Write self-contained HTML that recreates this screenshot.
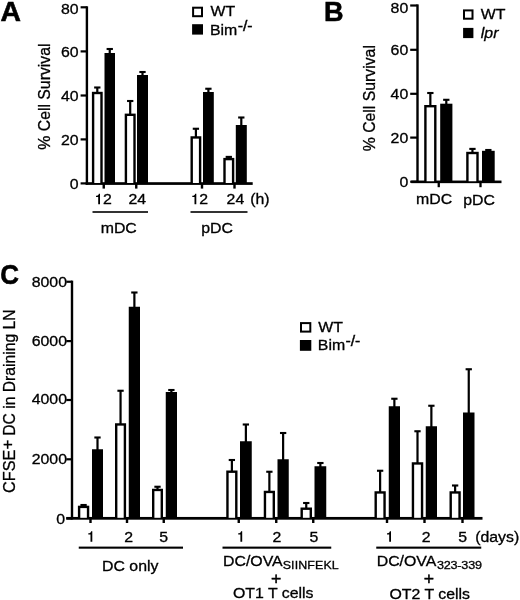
<!DOCTYPE html>
<html><head><meta charset="utf-8"><title>Figure</title>
<style>
html,body{margin:0;padding:0;background:#fff;}
text{stroke:#000;stroke-width:0.3px;}
svg{display:block;will-change:transform;font-family:"Liberation Sans",sans-serif;font-size:14.7px;fill:#000;}
</style></head>
<body>
<svg width="520" height="600" viewBox="0 0 520 600">
<rect x="0" y="0" width="520" height="600" fill="#fff"/>
<rect x="85.70" y="6.30" width="2.40" height="178.40" fill="#000"/>
<rect x="80.60" y="6.20" width="6.30" height="2.20" fill="#000"/>
<rect x="80.60" y="50.30" width="6.30" height="2.20" fill="#000"/>
<rect x="80.60" y="94.40" width="6.30" height="2.20" fill="#000"/>
<rect x="80.60" y="138.30" width="6.30" height="2.20" fill="#000"/>
<rect x="80.60" y="182.30" width="6.30" height="2.20" fill="#000"/>
<rect x="85.70" y="182.20" width="167.00" height="2.70" fill="#000"/>
<text transform="translate(78.60,14.20) scale(1.08,1)" text-anchor="end">80</text>
<text transform="translate(78.60,56.60) scale(1.08,1)" text-anchor="end">60</text>
<text transform="translate(78.60,100.70) scale(1.08,1)" text-anchor="end">40</text>
<text transform="translate(78.60,144.60) scale(1.08,1)" text-anchor="end">20</text>
<text transform="translate(78.60,188.80) scale(1.08,1)" text-anchor="end">0</text>
<rect x="96.20" y="87.50" width="2.20" height="5.30" fill="#000"/>
<rect x="94.15" y="86.45" width="6.30" height="2.10" fill="#000"/>
<rect x="91.90" y="91.80" width="10.80" height="91.70" fill="#000"/>
<rect x="94.30" y="94.20" width="6.00" height="88.80" fill="#fff"/>
<rect x="108.65" y="49.00" width="2.20" height="5.00" fill="#000"/>
<rect x="106.60" y="47.95" width="6.30" height="2.10" fill="#000"/>
<rect x="104.50" y="53.00" width="10.50" height="130.50" fill="#000"/>
<rect x="129.10" y="101.00" width="2.20" height="13.60" fill="#000"/>
<rect x="127.05" y="99.95" width="6.30" height="2.10" fill="#000"/>
<rect x="124.70" y="113.60" width="11.00" height="69.90" fill="#000"/>
<rect x="127.10" y="116.00" width="6.20" height="67.00" fill="#fff"/>
<rect x="141.40" y="72.00" width="2.20" height="4.00" fill="#000"/>
<rect x="139.35" y="70.95" width="6.30" height="2.10" fill="#000"/>
<rect x="137.00" y="75.00" width="11.00" height="108.50" fill="#000"/>
<rect x="194.80" y="128.75" width="2.20" height="8.50" fill="#000"/>
<rect x="192.75" y="127.70" width="6.30" height="2.10" fill="#000"/>
<rect x="190.50" y="136.25" width="10.80" height="47.25" fill="#000"/>
<rect x="192.90" y="138.65" width="6.00" height="44.35" fill="#fff"/>
<rect x="207.30" y="88.75" width="2.20" height="4.25" fill="#000"/>
<rect x="205.25" y="87.70" width="6.30" height="2.10" fill="#000"/>
<rect x="203.00" y="92.00" width="10.80" height="91.50" fill="#000"/>
<rect x="227.70" y="156.90" width="2.20" height="2.00" fill="#000"/>
<rect x="225.65" y="155.85" width="6.30" height="2.10" fill="#000"/>
<rect x="223.30" y="157.90" width="11.00" height="25.60" fill="#000"/>
<rect x="225.70" y="160.30" width="6.20" height="22.70" fill="#fff"/>
<rect x="240.20" y="117.50" width="2.20" height="8.50" fill="#000"/>
<rect x="238.15" y="116.45" width="6.30" height="2.10" fill="#000"/>
<rect x="235.80" y="125.00" width="11.00" height="58.50" fill="#000"/>
<rect x="102.55" y="183.50" width="2.40" height="5.10" fill="#000"/>
<rect x="135.05" y="183.50" width="2.40" height="5.10" fill="#000"/>
<rect x="200.80" y="183.50" width="2.40" height="5.10" fill="#000"/>
<rect x="233.30" y="183.50" width="2.40" height="5.10" fill="#000"/>
<text transform="translate(137.20,204.20) scale(1.08,1)" text-anchor="middle">24</text>
<text transform="translate(235.40,204.20) scale(1.08,1)" text-anchor="middle">24</text>
<path transform="translate(96.00,193.65)" d="M4,10.55V0H2.85C2.6,1.35 1.6,2.05 0,2.15V3.25H2.2V10.55Z"/>
<text transform="translate(103.00,204.20) scale(1.08,1)">2</text>
<path transform="translate(192.30,193.65)" d="M4,10.55V0H2.85C2.6,1.35 1.6,2.05 0,2.15V3.25H2.2V10.55Z"/>
<text transform="translate(199.30,204.20) scale(1.08,1)">2</text>
<text transform="translate(250.20,204.30) scale(1.08,1)">(h)</text>
<rect x="92.50" y="211.20" width="55.50" height="1.60" fill="#000"/>
<rect x="190.50" y="211.20" width="57.00" height="1.60" fill="#000"/>
<text transform="translate(118.75,233.10) scale(1.08,1)" text-anchor="middle">mDC</text>
<text transform="translate(217.00,233.10) scale(1.08,1)" text-anchor="middle">pDC</text>
<rect x="192.10" y="6.70" width="10.90" height="10.50" fill="#000"/>
<rect x="194.10" y="8.70" width="6.90" height="6.50" fill="#fff"/>
<rect x="192.10" y="24.20" width="10.90" height="10.40" fill="#000"/>
<text transform="translate(210.60,16.10) scale(1.08,1)">WT</text>
<text transform="translate(210.00,34.50) scale(1.08,1)">Bim<tspan dy="-3.8" dx="0.3" font-size="14.6" style="stroke-width:0.4px">-/-</tspan></text>
<text transform="translate(0.6,20.7) scale(1.01,1)" font-size="28" font-weight="bold" style="stroke-width:0.6px">A</text>
<text transform="translate(49.5,96.6) rotate(-90) scale(1,1.0)" text-anchor="middle" font-size="15.8">% Cell Survival</text>
<rect x="416.30" y="4.40" width="2.40" height="178.55" fill="#000"/>
<rect x="410.20" y="4.40" width="7.30" height="2.20" fill="#000"/>
<rect x="410.20" y="48.70" width="7.30" height="2.20" fill="#000"/>
<rect x="410.20" y="92.70" width="7.30" height="2.20" fill="#000"/>
<rect x="410.20" y="136.50" width="7.30" height="2.20" fill="#000"/>
<rect x="410.20" y="180.65" width="7.30" height="2.20" fill="#000"/>
<rect x="411.20" y="180.55" width="90.30" height="2.60" fill="#000"/>
<text transform="translate(408.20,12.50) scale(1.08,1)" text-anchor="end">80</text>
<text transform="translate(408.20,55.00) scale(1.08,1)" text-anchor="end">60</text>
<text transform="translate(408.20,98.90) scale(1.08,1)" text-anchor="end">40</text>
<text transform="translate(408.20,142.70) scale(1.08,1)" text-anchor="end">20</text>
<text transform="translate(408.20,187.00) scale(1.08,1)" text-anchor="end">0</text>
<rect x="429.25" y="93.00" width="2.20" height="13.00" fill="#000"/>
<rect x="427.20" y="91.95" width="6.30" height="2.10" fill="#000"/>
<rect x="424.20" y="105.00" width="12.30" height="76.75" fill="#000"/>
<rect x="426.60" y="107.40" width="7.50" height="73.85" fill="#fff"/>
<rect x="445.20" y="99.80" width="2.20" height="4.90" fill="#000"/>
<rect x="443.15" y="98.75" width="6.30" height="2.10" fill="#000"/>
<rect x="440.20" y="103.70" width="12.20" height="78.05" fill="#000"/>
<rect x="471.35" y="148.90" width="2.20" height="3.90" fill="#000"/>
<rect x="469.30" y="147.85" width="6.30" height="2.10" fill="#000"/>
<rect x="466.20" y="151.80" width="12.50" height="29.95" fill="#000"/>
<rect x="468.60" y="154.20" width="7.70" height="27.05" fill="#fff"/>
<rect x="487.25" y="150.00" width="2.20" height="1.80" fill="#000"/>
<rect x="485.20" y="148.95" width="6.30" height="2.10" fill="#000"/>
<rect x="482.00" y="150.80" width="12.70" height="30.95" fill="#000"/>
<rect x="437.60" y="181.75" width="2.30" height="5.45" fill="#000"/>
<rect x="479.35" y="181.75" width="2.30" height="5.45" fill="#000"/>
<text transform="translate(434.10,203.60) scale(1.08,1)" text-anchor="middle">mDC</text>
<text transform="translate(479.00,204.60) scale(1.08,1)" text-anchor="middle">pDC</text>
<rect x="463.00" y="9.40" width="10.50" height="10.30" fill="#000"/>
<rect x="465.00" y="11.40" width="6.50" height="6.30" fill="#fff"/>
<rect x="463.10" y="27.90" width="10.30" height="10.20" fill="#000"/>
<text transform="translate(480.80,19.30) scale(1.08,1)">WT</text>
<text transform="translate(480.80,37.60) scale(1.08,1)" font-style="italic">lpr</text>
<text transform="translate(324.0,20.7) scale(0.966,1)" font-size="28" font-weight="bold" style="stroke-width:0.6px">B</text>
<text transform="translate(375.0,98.2) rotate(-90) scale(1,1.0)" text-anchor="middle" font-size="15.8">% Cell Survival</text>
<rect x="70.80" y="280.60" width="2.40" height="238.90" fill="#000"/>
<rect x="66.30" y="280.65" width="5.70" height="2.20" fill="#000"/>
<rect x="66.30" y="340.00" width="5.70" height="2.20" fill="#000"/>
<rect x="66.30" y="398.90" width="5.70" height="2.20" fill="#000"/>
<rect x="66.30" y="458.20" width="5.70" height="2.20" fill="#000"/>
<rect x="66.30" y="517.20" width="5.70" height="2.20" fill="#000"/>
<rect x="66.30" y="516.95" width="416.20" height="2.75" fill="#000"/>
<text transform="translate(67.00,287.40) scale(1.08,1)" text-anchor="end">8000</text>
<text transform="translate(67.00,346.20) scale(1.08,1)" text-anchor="end">6000</text>
<text transform="translate(67.00,404.20) scale(1.08,1)" text-anchor="end">4000</text>
<text transform="translate(67.00,464.20) scale(1.08,1)" text-anchor="end">2000</text>
<text transform="translate(65.00,524.30) scale(1.08,1)" text-anchor="end">0</text>
<rect x="82.48" y="505.00" width="2.20" height="1.70" fill="#000"/>
<rect x="80.42" y="503.95" width="6.30" height="2.10" fill="#000"/>
<rect x="77.90" y="505.70" width="11.35" height="12.60" fill="#000"/>
<rect x="80.30" y="508.10" width="6.55" height="9.70" fill="#fff"/>
<rect x="96.40" y="437.50" width="2.20" height="12.75" fill="#000"/>
<rect x="94.35" y="436.45" width="6.30" height="2.10" fill="#000"/>
<rect x="92.00" y="449.25" width="11.00" height="69.05" fill="#000"/>
<rect x="119.45" y="390.75" width="2.20" height="33.50" fill="#000"/>
<rect x="117.40" y="389.70" width="6.30" height="2.10" fill="#000"/>
<rect x="115.00" y="423.25" width="11.10" height="95.05" fill="#000"/>
<rect x="117.40" y="425.65" width="6.30" height="92.15" fill="#fff"/>
<rect x="133.28" y="292.50" width="2.20" height="15.25" fill="#000"/>
<rect x="131.22" y="291.45" width="6.30" height="2.10" fill="#000"/>
<rect x="128.75" y="306.75" width="11.25" height="211.55" fill="#000"/>
<rect x="156.40" y="486.75" width="2.20" height="3.00" fill="#000"/>
<rect x="154.35" y="485.70" width="6.30" height="2.10" fill="#000"/>
<rect x="152.00" y="488.75" width="11.00" height="29.55" fill="#000"/>
<rect x="154.40" y="491.15" width="6.20" height="26.65" fill="#fff"/>
<rect x="170.28" y="390.00" width="2.20" height="3.00" fill="#000"/>
<rect x="168.22" y="388.95" width="6.30" height="2.10" fill="#000"/>
<rect x="165.75" y="392.00" width="11.25" height="126.30" fill="#000"/>
<rect x="230.78" y="460.00" width="2.20" height="11.50" fill="#000"/>
<rect x="228.72" y="458.95" width="6.30" height="2.10" fill="#000"/>
<rect x="226.25" y="470.50" width="11.25" height="47.80" fill="#000"/>
<rect x="228.65" y="472.90" width="6.45" height="44.90" fill="#fff"/>
<rect x="244.78" y="424.50" width="2.20" height="17.75" fill="#000"/>
<rect x="242.72" y="423.45" width="6.30" height="2.10" fill="#000"/>
<rect x="240.00" y="441.25" width="11.75" height="77.05" fill="#000"/>
<rect x="268.27" y="471.75" width="2.20" height="20.00" fill="#000"/>
<rect x="266.23" y="470.70" width="6.30" height="2.10" fill="#000"/>
<rect x="263.75" y="490.75" width="11.25" height="27.55" fill="#000"/>
<rect x="266.15" y="493.15" width="6.45" height="24.65" fill="#fff"/>
<rect x="282.02" y="433.00" width="2.20" height="27.25" fill="#000"/>
<rect x="279.98" y="431.95" width="6.30" height="2.10" fill="#000"/>
<rect x="277.50" y="459.25" width="11.25" height="59.05" fill="#000"/>
<rect x="305.15" y="503.00" width="2.20" height="5.50" fill="#000"/>
<rect x="303.10" y="501.95" width="6.30" height="2.10" fill="#000"/>
<rect x="300.50" y="507.50" width="11.50" height="10.80" fill="#000"/>
<rect x="302.90" y="509.90" width="6.70" height="7.90" fill="#fff"/>
<rect x="319.27" y="463.00" width="2.20" height="4.25" fill="#000"/>
<rect x="317.23" y="461.95" width="6.30" height="2.10" fill="#000"/>
<rect x="314.50" y="466.25" width="11.75" height="52.05" fill="#000"/>
<rect x="379.02" y="470.75" width="2.20" height="21.50" fill="#000"/>
<rect x="376.98" y="469.70" width="6.30" height="2.10" fill="#000"/>
<rect x="374.50" y="491.25" width="11.25" height="27.05" fill="#000"/>
<rect x="376.90" y="493.65" width="6.45" height="24.15" fill="#fff"/>
<rect x="393.27" y="398.75" width="2.20" height="8.50" fill="#000"/>
<rect x="391.23" y="397.70" width="6.30" height="2.10" fill="#000"/>
<rect x="388.75" y="406.25" width="11.25" height="112.05" fill="#000"/>
<rect x="416.40" y="431.25" width="2.20" height="32.00" fill="#000"/>
<rect x="414.35" y="430.20" width="6.30" height="2.10" fill="#000"/>
<rect x="411.75" y="462.25" width="11.50" height="56.05" fill="#000"/>
<rect x="414.15" y="464.65" width="6.70" height="53.15" fill="#fff"/>
<rect x="430.27" y="405.75" width="2.20" height="21.50" fill="#000"/>
<rect x="428.23" y="404.70" width="6.30" height="2.10" fill="#000"/>
<rect x="425.75" y="426.25" width="11.25" height="92.05" fill="#000"/>
<rect x="454.02" y="485.50" width="2.20" height="6.75" fill="#000"/>
<rect x="451.98" y="484.45" width="6.30" height="2.10" fill="#000"/>
<rect x="449.50" y="491.25" width="11.25" height="27.05" fill="#000"/>
<rect x="451.90" y="493.65" width="6.45" height="24.15" fill="#fff"/>
<rect x="467.65" y="369.25" width="2.20" height="44.25" fill="#000"/>
<rect x="465.60" y="368.20" width="6.30" height="2.10" fill="#000"/>
<rect x="463.00" y="412.50" width="11.50" height="105.80" fill="#000"/>
<rect x="89.30" y="518.30" width="2.40" height="4.70" fill="#000"/>
<rect x="125.80" y="518.30" width="2.40" height="4.70" fill="#000"/>
<rect x="162.55" y="518.30" width="2.40" height="4.70" fill="#000"/>
<rect x="237.55" y="518.30" width="2.40" height="4.70" fill="#000"/>
<rect x="275.05" y="518.30" width="2.40" height="4.70" fill="#000"/>
<rect x="312.05" y="518.30" width="2.40" height="4.70" fill="#000"/>
<rect x="385.80" y="518.30" width="2.40" height="4.70" fill="#000"/>
<rect x="423.30" y="518.30" width="2.40" height="4.70" fill="#000"/>
<rect x="461.30" y="518.30" width="2.40" height="4.70" fill="#000"/>
<text transform="translate(128.75,541.80) scale(1.08,1)" text-anchor="middle">2</text>
<text transform="translate(163.75,541.80) scale(1.08,1)" text-anchor="middle">5</text>
<text transform="translate(277.00,541.80) scale(1.08,1)" text-anchor="middle">2</text>
<text transform="translate(314.00,541.80) scale(1.08,1)" text-anchor="middle">5</text>
<text transform="translate(426.25,541.80) scale(1.08,1)" text-anchor="middle">2</text>
<text transform="translate(462.60,541.80) scale(1.08,1)" text-anchor="middle">5</text>
<path transform="translate(88.30,531.15)" d="M4,10.55V0H2.85C2.6,1.35 1.6,2.05 0,2.15V3.25H2.2V10.55Z"/>
<path transform="translate(238.20,531.15)" d="M4,10.55V0H2.85C2.6,1.35 1.6,2.05 0,2.15V3.25H2.2V10.55Z"/>
<path transform="translate(387.00,531.15)" d="M4,10.55V0H2.85C2.6,1.35 1.6,2.05 0,2.15V3.25H2.2V10.55Z"/>
<text transform="translate(475.20,541.80) scale(1.08,1)">(days)</text>
<rect x="78.75" y="546.60" width="104.25" height="2.10" fill="#000"/>
<rect x="222.50" y="546.60" width="108.75" height="2.10" fill="#000"/>
<rect x="376.25" y="546.60" width="105.00" height="2.10" fill="#000"/>
<text transform="translate(130.20,571.30) scale(1.08,1)" text-anchor="middle">DC only</text>
<text transform="translate(223.00,565.60) scale(1.08,1)">DC/OVA<tspan dy="3.0" font-size="11.5" letter-spacing="0.13">SIINFEKL</tspan></text>
<text transform="translate(276.20,583.60) scale(1.08,1)" text-anchor="middle" font-size="16.3" style="stroke-width:0.45px">+</text>
<text transform="translate(273.20,597.60) scale(1.08,1)" text-anchor="middle">OT1 T cells</text>
<text transform="translate(376.70,566.10) scale(1.08,1)">DC/OVA<tspan dy="2.7" dx="0.6" font-size="11.7" letter-spacing="-0.2">323-339</tspan></text>
<text transform="translate(428.90,584.00) scale(1.08,1)" text-anchor="middle" font-size="16.3" style="stroke-width:0.45px">+</text>
<text transform="translate(429.70,598.60) scale(1.08,1)" text-anchor="middle">OT2 T cells</text>
<rect x="300.00" y="322.10" width="11.30" height="10.50" fill="#000"/>
<rect x="302.00" y="324.10" width="7.30" height="6.50" fill="#fff"/>
<rect x="299.90" y="340.00" width="11.40" height="10.80" fill="#000"/>
<text transform="translate(318.20,332.00) scale(1.08,1)">WT</text>
<text transform="translate(317.80,350.00) scale(1.08,1)">Bim<tspan dy="-3.8" dx="0.3" font-size="14.6" style="stroke-width:0.4px">-/-</tspan></text>
<text transform="translate(0.2,283.6) scale(0.92,1)" font-size="28.2" font-weight="bold" style="stroke-width:0.6px">C</text>
<text transform="translate(14.6,493.0) rotate(-90) scale(1,1.0)" font-size="16.25">CFSE<tspan dy="-1.3" dx="0.2" font-size="17">+</tspan></text>
<text transform="translate(14.6,309.4) rotate(-90) scale(1,1.0)" text-anchor="end" font-size="15.7">DC in Draining LN</text>
</svg>
</body></html>
